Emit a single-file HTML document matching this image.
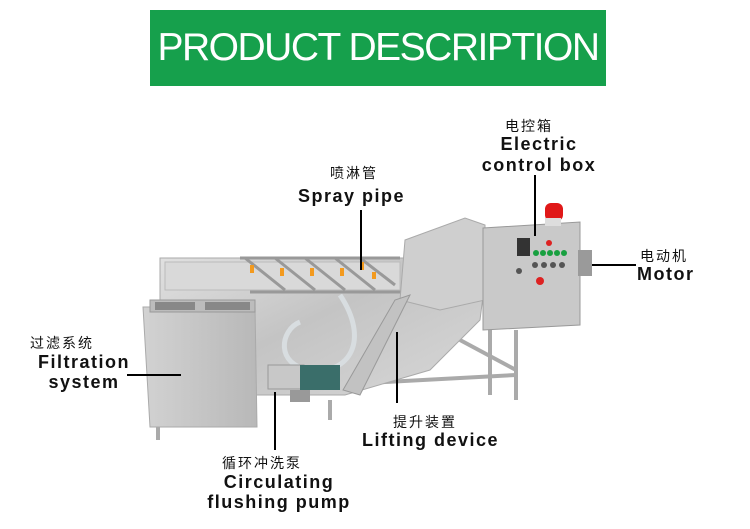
<!DOCTYPE html>
<html><head><meta charset="utf-8"><style>
body{margin:0;width:750px;height:529px;background:#fff;overflow:hidden;position:relative;font-family:"Liberation Sans","Noto Sans CJK SC",sans-serif}
.banner{position:absolute;left:150px;top:10px;width:456px;height:76px;background:#16a04c;color:#fff;font-size:39px;text-align:center;line-height:76px;letter-spacing:-1.5px;white-space:nowrap;overflow:hidden}
.t{position:absolute;white-space:nowrap;text-align:center}
.cn{font-size:14px;color:#111;letter-spacing:2px}
.en{font-size:18px;font-weight:bold;color:#111;letter-spacing:1.5px}
svg{position:absolute;left:0;top:0}
</style></head><body>
<div class="banner">PRODUCT DESCRIPTION</div>
<svg width="750" height="529">
<defs>
<linearGradient id="s" x1="0" y1="0" x2="1" y2="1"><stop offset="0" stop-color="#e6e6e6"/><stop offset="0.5" stop-color="#c4c4c4"/><stop offset="1" stop-color="#d8d8d8"/></linearGradient>
<linearGradient id="s2" x1="0" y1="0" x2="1" y2="0"><stop offset="0" stop-color="#d2d2d2"/><stop offset="1" stop-color="#b8b8b8"/></linearGradient>
</defs>
<g stroke="#aaa" stroke-width="4" fill="none">
<line x1="158" y1="420" x2="158" y2="440"/><line x1="330" y1="400" x2="330" y2="420"/>
<line x1="490" y1="320" x2="490" y2="395"/><line x1="516" y1="330" x2="516" y2="400"/>
<line x1="330" y1="385" x2="516" y2="375"/><line x1="460" y1="340" x2="516" y2="370"/>
</g>
<polygon points="160,258 405,258 470,230 490,240 480,320 430,370 345,395 255,395 250,300 160,300" fill="url(#s)" stroke="#aaa"/>
<polygon points="165,262 400,262 400,290 165,290" fill="#d9d9d9" stroke="#bbb"/>
<g stroke="#999" stroke-width="3">
<line x1="245" y1="258" x2="285" y2="290"/><line x1="275" y1="258" x2="315" y2="290"/><line x1="305" y1="258" x2="345" y2="290"/><line x1="335" y1="258" x2="375" y2="290"/><line x1="360" y1="258" x2="395" y2="285"/>
<line x1="240" y1="258" x2="400" y2="258"/><line x1="250" y1="292" x2="405" y2="292"/>
</g>
<g fill="#f39a1e">
<rect x="250" y="265" width="4" height="8"/><rect x="280" y="268" width="4" height="8"/><rect x="310" y="268" width="4" height="8"/><rect x="340" y="268" width="4" height="8"/><rect x="360" y="262" width="4" height="8"/>
<rect x="372" y="272" width="4" height="7"/><rect x="420" y="238" width="4" height="6"/><rect x="435" y="248" width="4" height="6"/><rect x="450" y="245" width="4" height="6"/><rect x="410" y="250" width="4" height="6"/>
</g>
<polygon points="405,240 465,218 485,225 485,300 440,310 400,300" fill="#cfcfcf" stroke="#aaa"/>
<polygon points="343,390 395,300 410,295 360,395" fill="#c2c2c2" stroke="#999"/>
<polygon points="143,307 255,307 257,427 150,427" fill="url(#s2)" stroke="#aaa"/>
<rect x="150" y="300" width="105" height="12" fill="#bcbcbc" stroke="#999"/>
<rect x="155" y="302" width="40" height="8" fill="#888"/><rect x="205" y="302" width="45" height="8" fill="#888"/>
<path d="M340,295 C370,340 350,375 310,370 C275,365 280,330 300,322" fill="none" stroke="#d8dde0" stroke-width="5"/>
<rect x="268" y="365" width="36" height="24" fill="#c8c8c8" stroke="#999"/>
<rect x="300" y="365" width="40" height="25" fill="#3a6e6a"/>
<rect x="290" y="390" width="20" height="12" fill="#999"/>
<polygon points="483,228 580,222 580,325 483,330" fill="#c9c9c9" stroke="#999"/>
<rect x="517" y="238" width="13" height="18" fill="#333"/>
<g fill="#18a040"><circle cx="536" cy="253" r="3"/><circle cx="543" cy="253" r="3"/><circle cx="550" cy="253" r="3"/><circle cx="557" cy="253" r="3"/><circle cx="564" cy="253" r="3"/></g>
<g fill="#555"><circle cx="535" cy="265" r="3"/><circle cx="544" cy="265" r="3"/><circle cx="553" cy="265" r="3"/><circle cx="562" cy="265" r="3"/><circle cx="519" cy="271" r="3"/></g>
<circle cx="540" cy="281" r="4" fill="#d22"/><circle cx="549" cy="243" r="3" fill="#d22"/>
<rect x="545" y="203" width="18" height="18" rx="6" fill="#e01818"/><rect x="545" y="218" width="16" height="8" fill="#ddd"/>
<rect x="578" y="250" width="14" height="26" fill="#9a9a9a"/>
<g stroke="#000" stroke-width="2">
<line x1="535" y1="175" x2="535" y2="236"/>
<line x1="361" y1="210" x2="361" y2="270"/>
<line x1="592" y1="265" x2="636" y2="265"/>
<line x1="127" y1="375" x2="181" y2="375"/>
<line x1="397" y1="332" x2="397" y2="403"/>
<line x1="275" y1="392" x2="275" y2="450"/>
</g>
</svg>
<div class="t cn" style="left:505px;top:116px">电控箱</div>
<div class="t en" style="left:472px;top:134px;width:134px">Electric<br>control box</div>
<div class="t cn" style="left:330px;top:163px">喷淋管</div>
<div class="t en" style="left:298px;top:186px">Spray pipe</div>
<div class="t cn" style="left:640px;top:246px">电动机</div>
<div class="t en" style="left:637px;top:264px">Motor</div>
<div class="t cn" style="left:30px;top:333px">过滤系统</div>
<div class="t en" style="left:28px;top:352px;width:112px;line-height:20px">Filtration<br>system</div>
<div class="t cn" style="left:393px;top:412px">提升装置</div>
<div class="t en" style="left:362px;top:430px">Lifting device</div>
<div class="t cn" style="left:222px;top:453px">循环冲洗泵</div>
<div class="t en" style="left:194px;top:472px;width:170px;line-height:20px">Circulating<br>flushing pump</div>
</body></html>
